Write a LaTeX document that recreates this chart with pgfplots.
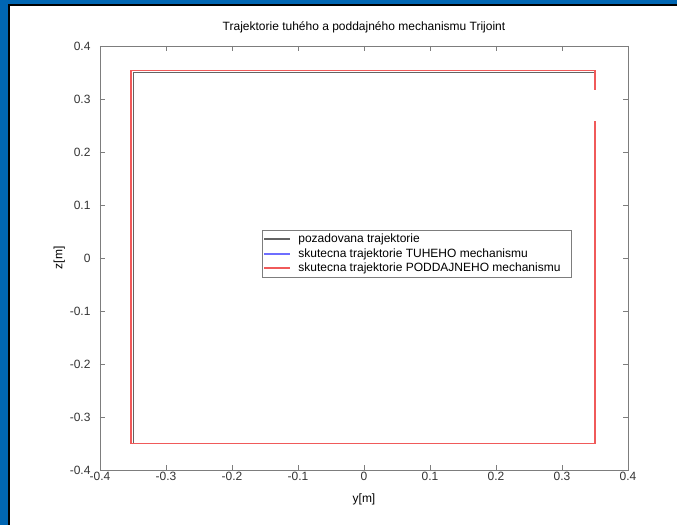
\documentclass[border=0pt]{standalone}
\usepackage{pgfplots}
\pgfplotsset{compat=1.18}
\usetikzlibrary{calc}
\usepackage{fontspec}
\setmainfont{Liberation Sans}
\definecolor{frameblue}{RGB}{0,102,179}
\definecolor{axgray}{RGB}{125,125,125}
\definecolor{desgray}{RGB}{100,100,100}
\definecolor{rigblue}{RGB}{110,110,255}
\definecolor{flexred}{RGB}{240,90,90}
\begin{document}
\begin{tikzpicture}
\begin{axis}[
  scale only axis, width=528pt, height=424pt,
  xmin=-0.4, xmax=0.4, ymin=-0.4, ymax=0.4,
  xtick={-0.4,-0.3,...,0.4}, ytick={-0.4,-0.3,...,0.4},
  xticklabels={-0.4,-0.3,-0.2,-0.1,0,0.1,0.2,0.3,0.4},
  yticklabels={-0.4,-0.3,-0.2,-0.1,0,0.1,0.2,0.3,0.4},
  tick align=inside, major tick length=5pt,
  axis line style={axgray, line width=0.8pt},
  every tick/.style={axgray, line width=0.8pt},
  tick label style={font=\fontsize{12}{14}\selectfont, text=black!80},
  xticklabel style={yshift=1pt},
  yticklabel style={xshift=-6pt},
  title={Trajektorie tuhého a poddajného mechanismu Trijoint},
  title style={font=\fontsize{12}{14}\selectfont, at={(0.5,1)}, anchor=south, yshift=3pt},
  xlabel={y[m]}, ylabel={z[m]},
  label style={font=\fontsize{12}{14}\selectfont},
  xlabel style={yshift=-6pt},
  ylabel style={yshift=-2pt},
  legend style={at={(0.307,0.566)}, anchor=north west, draw=none, fill=white, name=leg,
    font=\fontsize{12}{13}\selectfont, row sep=0pt, inner xsep=2pt, inner ysep=2pt},
  legend cell align=left,
]
\coordinate (LL) at (rel axis cs:0,0);
% desired trajectory
\addplot[desgray, line width=0.8pt,
  legend image code/.code={\fill[fill=desgray] (0pt,-0.45pt) rectangle (25pt,0.45pt); \path (31pt,0pt);}] coordinates {
 (0.35,0.258) (0.35,-0.350) (-0.350,-0.350) (-0.350,0.350) (0.35,0.350) (0.35,0.317)};
\addlegendentry{pozadovana trajektorie}
% rigid mechanism trajectory
\addplot[rigblue, line width=0.9pt,
  legend image code/.code={\fill[fill=rigblue] (0pt,-0.45pt) rectangle (25pt,0.45pt); \path (31pt,0pt);}] coordinates {
 (0.35,0.258) (0.35,-0.350) (-0.350,-0.350) (-0.350,0.351) (0.35,0.351) (0.35,0.317)};
\addlegendentry{skutecna trajektorie TUHEHO mechanismu}
% desired trajectory redrawn on top (hides most of the rigid one)
\addplot[desgray, line width=0.8pt, forget plot] coordinates {
 (0.35,0.258) (0.35,-0.350) (-0.350,-0.350) (-0.350,0.350) (0.35,0.350) (0.35,0.317)};
% flexible mechanism trajectory
\addplot[flexred, line width=1.1pt,
  legend image code/.code={\fill[fill=flexred] (0pt,-0.45pt) rectangle (25pt,0.45pt); \path (31pt,0pt);}] coordinates {
 (0.35,0.258) (0.35,-0.350) (-0.353,-0.350) (-0.353,0.3545) (-0.224,0.3545) (-0.224,0.354) (0.35,0.354) (0.35,0.317)};
\addlegendentry{skutecna trajektorie PODDAJNEHO mechanismu\hspace*{7pt}}
\end{axis}
\draw[axgray, line width=0.6pt] (leg.south west) rectangle (leg.north east);
\path[use as bounding box] ($(LL)+(-100pt,-55pt)$) rectangle ($(LL)+(577pt,470pt)$);
\fill[frameblue] ($(LL)+(-100pt,-55pt)$) rectangle ($(LL)+(-92pt,470pt)$);
\fill[frameblue] ($(LL)+(-100pt,466pt)$) rectangle ($(LL)+(577pt,470pt)$);
\fill[black] ($(LL)+(-92pt,-55pt)$) rectangle ($(LL)+(-90pt,466pt)$);
\fill[black] ($(LL)+(-92pt,464pt)$) rectangle ($(LL)+(577pt,466pt)$);
\end{tikzpicture}
\end{document}
